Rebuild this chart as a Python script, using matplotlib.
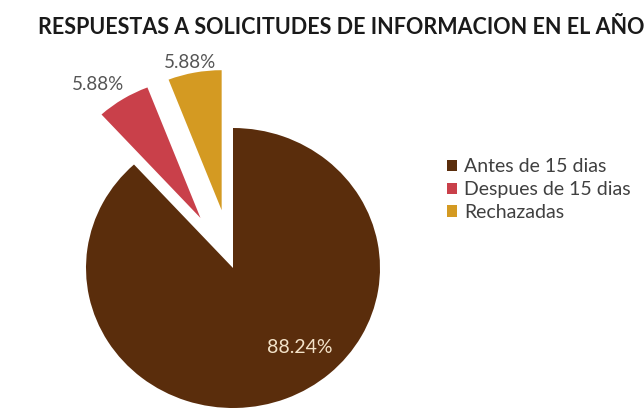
import matplotlib
matplotlib.use('Agg')
from matplotlib import pyplot as plt

categories = ['Antes de 15 dias', 'Despues de 15 dias', 'Rechazadas']
values = [88.24, 5.88, 5.88]
colors = ['#5a2d0c', '#c9404a', '#d49a22']
explode = [0, 0.42, 0.42]
title = 'RESPUESTAS A SOLICITUDES DE INFORMACION EN EL AÑO'

W, H = 644, 408
cx, cy = 233, 140          # pie centre, pixels from bottom-left
rx, ry = 147, 140          # horizontal / vertical radius in pixels

fig = plt.figure(figsize=(W / 100, H / 100), dpi=100)
ax = fig.add_axes([0, 0, 1, 1])

wedges, texts, autotexts = ax.pie(
    values, colors=colors, explode=explode, startangle=90, counterclock=False,
    autopct='%1.2f%%', pctdistance=0.75,
    wedgeprops=dict(edgecolor='none'),
    textprops=dict(family='Lato', fontsize=13.5),
)
ax.set_aspect('auto')
ax.set_xlim(-cx / rx, (W - cx) / rx)
ax.set_ylim(-cy / ry, (H - cy) / ry)
ax.axis('off')

# label placement, in pie units
label_pos = [(0.456, -0.571), (-0.92, 1.31), (-0.29, 1.47)]
for t, pos in zip(autotexts, label_pos):
    t.set_position(pos)
autotexts[0].set_color('#f3e2c8')
autotexts[0].set_fontsize(14)
for t in autotexts[1:]:
    t.set_color('#555555')

fig.text(38 / W, 1 - 28 / H, title, family='Lato', weight='bold', fontsize=15.5,
         color='#1a1a1a', va='center', ha='left')

fig.legend(wedges, categories, loc='upper left', bbox_to_anchor=(429 / W, 1 - 141 / H),
           frameon=False, prop=dict(family='Lato', size=14), labelcolor='#404040',
           handlelength=0.55, handleheight=0.55, handletextpad=0.35, labelspacing=0.3)

fig.savefig('out.png', dpi=100)
